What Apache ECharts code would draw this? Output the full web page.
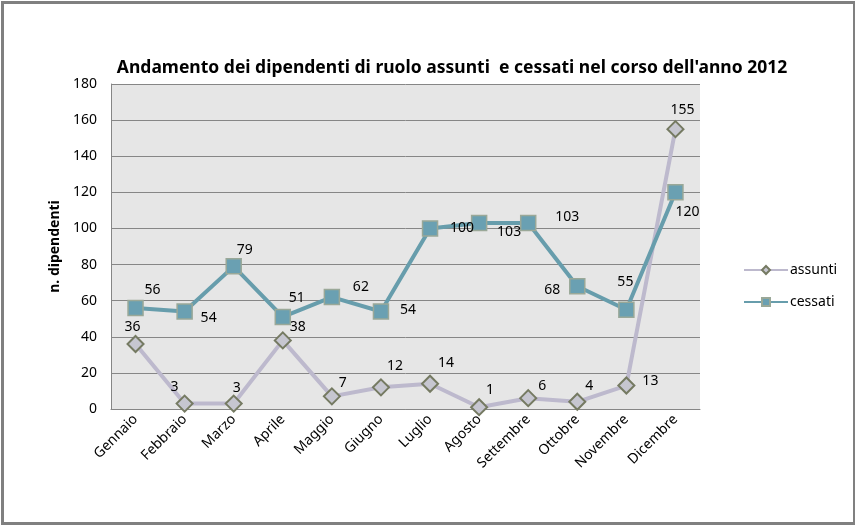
<!DOCTYPE html>
<html>
<head>
<meta charset="utf-8">
<script src="https://cdn.jsdelivr.net/npm/echarts@6/dist/echarts.min.js"></script>
<style>
html,body{margin:0;padding:0;background:#fff;}
#c{width:855px;height:525px;}
</style>
</head>
<body>
<div id="c"></div>
<script>
var categories = ['Gennaio','Febbraio','Marzo','Aprile','Maggio','Giugno','Luglio','Agosto','Settembre','Ottobre','Novembre','Dicembre'];
var assunti = [36,3,3,38,7,12,14,1,6,4,13,155];
var cessati = [56,54,79,51,62,54,100,103,103,68,55,120];
var yTicks = [0,20,40,60,80,100,120,140,160,180];

// label offsets (style only)
var assuntiLabelOffsets = [[-3,-17],[-10,-17],[3,-16],[15,-13],[11,-13],[14,-21],[16,-21],[11,-17],[14,-12],[12,-16],[24,-5],[7,-19]];
var cessatiLabelOffsets = [[17,-18],[24,7],[11,-16],[14,-19],[29,-10],[27,-1],[32,0],[30,9],[39,-6],[-25,4],[-1,-28],[12,20]];

var FONT = 'Noto Sans';
function buildData(vals, offs) {
  return vals.map(function (v, i) {
    return { value: v, label: { offset: offs[i] } };
  });
}

var chart = echarts.init(document.getElementById('c'), null, { renderer: 'canvas' });
chart.setOption({
  animation: false,
  backgroundColor: '#ffffff',
  title: {
    text: "Andamento dei dipendenti di ruolo assunti  e cessati nel corso dell'anno 2012",
    left: 447, top: 54, textAlign: 'center',
    textStyle: { fontFamily: FONT, fontWeight: 'bold', fontSize: 17.5, color: '#000' }
  },
  legend: {
    orient: 'vertical', left: 738, top: 258, itemGap: 18,
    itemWidth: 44, itemHeight: 10,
    textStyle: { fontFamily: FONT, fontSize: 14, color: '#000', padding: [0,0,0,-3] },
    data: ['assunti','cessati']
  },
  grid: {
    left: 111, right: 155, top: 84, bottom: 116,
    show: true, backgroundColor: '#e6e6e6', borderWidth: 0
  },
  xAxis: {
    type: 'category', data: categories, boundaryGap: true,
    axisLine: { lineStyle: { color: '#868686', width: 1 } },
    axisTick: { show: false },
    axisLabel: { rotate: 45, margin: 8, fontFamily: FONT, fontSize: 14, color: '#000', interval: 0 }
  },
  yAxis: {
    type: 'value', min: yTicks[0], max: yTicks[yTicks.length-1], interval: 20,
    name: 'n. dipendenti', nameLocation: 'middle', nameGap: 46, nameRotate: 90,
    nameTextStyle: { fontFamily: FONT, fontWeight: 'bold', fontSize: 14, color: '#000' },
    axisLine: { show: true, lineStyle: { color: '#868686', width: 1 } },
    axisTick: { show: false },
    splitLine: { lineStyle: { color: '#868686', width: 1 } },
    axisLabel: { margin: 14, fontFamily: FONT, fontSize: 14, color: '#000' }
  },
  series: [
    {
      name: 'assunti', type: 'line', data: buildData(assunti, assuntiLabelOffsets),
      symbol: 'diamond', symbolSize: 16,
      lineStyle: { color: '#bdb9cd', width: 4 },
      itemStyle: { color: '#c6c6d0', borderColor: '#757a62', borderWidth: 2 },
      label: { show: true, position: 'inside', fontFamily: FONT, fontSize: 14, color: '#000' },
      z: 2
    },
    {
      name: 'cessati', type: 'line', data: buildData(cessati, cessatiLabelOffsets),
      symbol: 'rect', symbolSize: 15,
      lineStyle: { color: '#679dac', width: 4 },
      itemStyle: { color: '#6aa0b2', borderColor: '#9aa898', borderWidth: 1.5 },
      label: { show: true, position: 'inside', fontFamily: FONT, fontSize: 14, color: '#000' },
      z: 3
    }
  ],
  graphic: [{
    type: 'rect', left: 0, top: 0, z: 100, silent: true,
    shape: { x: 1.5, y: 1.5, width: 852, height: 521 },
    style: { fill: 'none', stroke: '#808080', lineWidth: 3 }
  }]
});
</script>
</body>
</html>
